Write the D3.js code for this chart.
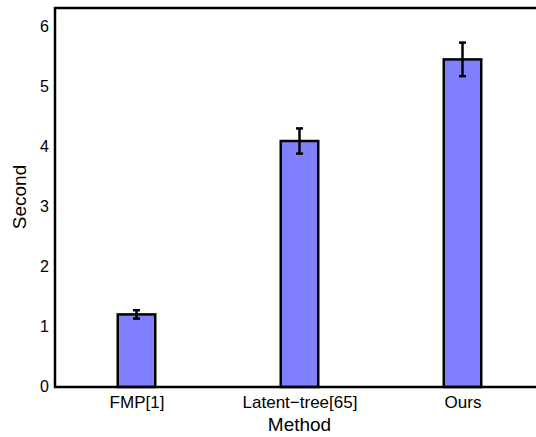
<!DOCTYPE html>
<html>
<head>
<meta charset="utf-8">
<script src="https://cdn.jsdelivr.net/npm/d3@7"></script>
<style>
  body { margin: 0; background: #fff; }
  text { font-family: "Liberation Sans", Arial, sans-serif; fill: #000; }
</style>
</head>
<body>
<div id="chart"></div>
<script>
// data
let methods = ["FMP[1]", "Latent\u2212tree[65]", "Ours"];
let seconds = [1.21, 4.10, 5.46];
let errors = [0.07, 0.21, 0.28];
let yTicks = [0, 1, 2, 3, 4, 5, 6];

let svgWidth = 536;
let svgHeight = 437;

// plot box
let boxLeft = 55, boxTop = 8, boxBottom = 387;

let svg = d3.select("#chart")
  .append("svg")
  .attr("width", svgWidth)
  .attr("height", svgHeight);

// x runs 0.5..3.5, the right part is cut by the window
let xScale = d3.scaleLinear().domain([0.5, 3.5]).range([boxLeft, 544]);
let yScale = d3.scaleLinear().domain([0, 6]).range([boxBottom, 27]);

let barW = xScale(1.23) - xScale(1);

// bars
svg.selectAll("rect.bar")
  .data(seconds)
  .enter()
  .append("rect")
  .attr("class", "bar")
  .attr("x", (d, i) => xScale(i + 1) - barW / 2)
  .attr("y", d => yScale(d))
  .attr("width", barW)
  .attr("height", d => yScale(0) - yScale(d))
  .attr("fill", "#8080ff")
  .attr("stroke", "#000")
  .attr("stroke-width", 2.5);

// error bars
let err = svg.selectAll("g.err")
  .data(seconds)
  .enter()
  .append("g")
  .attr("class", "err")
  .attr("stroke", "#000")
  .attr("stroke-width", 2.5);

err.append("line")
  .attr("x1", (d, i) => xScale(i + 1))
  .attr("x2", (d, i) => xScale(i + 1))
  .attr("y1", (d, i) => yScale(d + errors[i]))
  .attr("y2", (d, i) => yScale(d - errors[i]));

[1, -1].forEach(function(s) {
  err.append("line")
    .attr("x1", (d, i) => xScale(i + 1) - 3.5)
    .attr("x2", (d, i) => xScale(i + 1) + 3.5)
    .attr("y1", (d, i) => yScale(d + s * errors[i]))
    .attr("y2", (d, i) => yScale(d + s * errors[i]));
});

// frame: left, top and bottom (right side is outside the window)
svg.append("path")
  .attr("d", "M" + svgWidth + "," + boxTop + "H" + boxLeft + "V" + boxBottom + "H" + svgWidth)
  .attr("fill", "none")
  .attr("stroke", "#000")
  .attr("stroke-width", 2.5);

// y axis labels
let yAxis = d3.axisLeft(yScale).tickValues(yTicks).tickSize(0).tickPadding(6).tickFormat(d3.format("d"));
svg.append("g")
  .attr("transform", "translate(" + boxLeft + ",0)")
  .call(yAxis)
  .call(g => g.select(".domain").remove())
  .selectAll("text")
  .style("font-size", "16px")
  .attr("dy", "0.3em");

// x axis labels
let xAxis = d3.axisBottom(xScale).tickValues([1, 2, 3]).tickSize(0).tickPadding(9)
  .tickFormat(d => methods[d - 1]);
svg.append("g")
  .attr("transform", "translate(0," + boxBottom + ")")
  .call(xAxis)
  .call(g => g.select(".domain").remove())
  .selectAll("text")
  .style("font-size", "17px");

// axis titles
svg.append("text")
  .attr("x", xScale(2))
  .attr("y", 431)
  .attr("text-anchor", "middle")
  .style("font-size", "19px")
  .text("Method");

svg.append("text")
  .attr("transform", "translate(26,197)rotate(-90)")
  .attr("text-anchor", "middle")
  .style("font-size", "19px")
  .text("Second");
</script>
</body>
</html>
